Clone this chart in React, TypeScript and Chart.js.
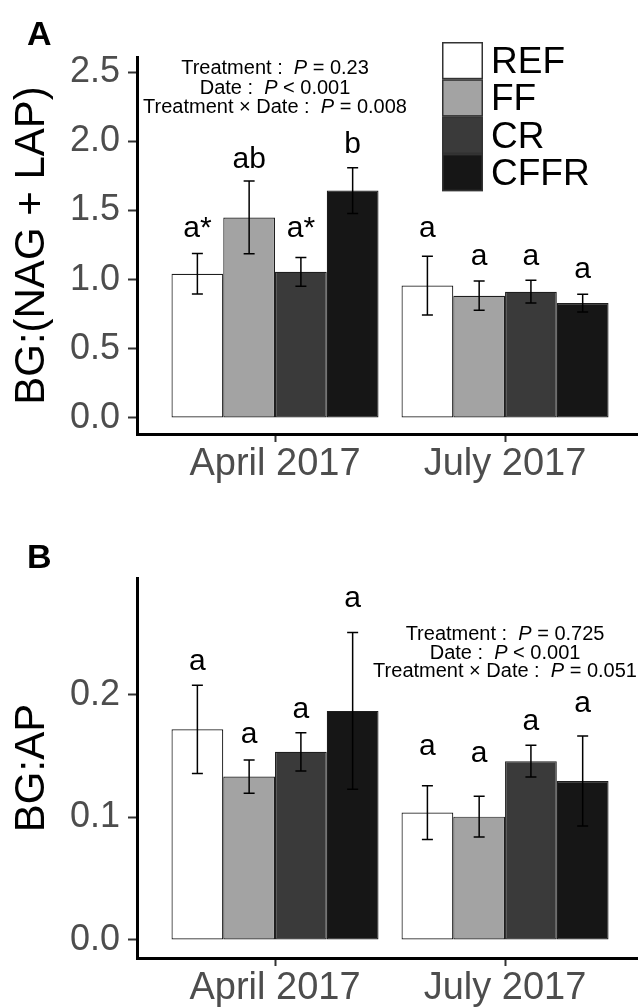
import React, { useEffect, useRef } from 'react';
import { Chart, registerables } from 'chart.js';

Chart.register(...registerables);

const FONT = "'Liberation Sans', Arial, Helvetica, sans-serif";

// ---- data ----
const dates = ['April 2017', 'July 2017'];
const treatments = ['REF', 'FF', 'CR', 'CFFR'];
const fills = ['#FFFFFF', '#A3A3A3', '#3A3A3A', '#161616'];

// Panel A: BG:(NAG + LAP)
const nagAprilMean = [1.043, 1.45, 1.057, 1.644];
const nagAprilSe = [0.147, 0.263, 0.104, 0.166];
const nagJulyMean = [0.957, 0.884, 0.913, 0.831];
const nagJulySe = [0.212, 0.106, 0.082, 0.064];
const nagAprilLetters = ['a*', 'ab', 'a*', 'b'];
const nagJulyLetters = ['a', 'a', 'a', 'a'];
const nagAprilLetterAt = [1.31, 1.809, 1.31, 1.913];
const nagJulyLetterAt = [1.31, 1.105, 1.105, 1.009];
const nagTicks = [0, 0.5, 1, 1.5, 2, 2.5];
const nagStats: [string, string, string][] = [
  ['Treatment', '=', '0.23'],
  ['Date', '<', '0.001'],
  ['Treatment \u00D7 Date', '=', '0.008'],
];

// Panel B: BG:AP
const apAprilMean = [0.172, 0.1334, 0.1536, 0.187];
const apAprilSe = [0.036, 0.0136, 0.0156, 0.064];
const apJulyMean = [0.104, 0.1007, 0.146, 0.1298];
const apJulySe = [0.022, 0.0167, 0.013, 0.0367];
const apAprilLetters = ['a', 'a', 'a', 'a'];
const apJulyLetters = ['a', 'a', 'a', 'a'];
const apAprilLetterAt = [0.2204, 0.1606, 0.181, 0.2716];
const apJulyLetterAt = [0.151, 0.1456, 0.1714, 0.1864];
const apTicks = [0, 0.1, 0.2];
const apStats: [string, string, string][] = [
  ['Treatment', '=', '0.725'],
  ['Date', '<', '0.001'],
  ['Treatment \u00D7 Date', '=', '0.051'],
];

type Spec = {
  height: number;
  padTop: number;
  axisBottom: number;
  yMin: number;
  yMax: number;
  yTicks: number[];
  yTitle: string;
  means: number[][];
  ses: number[][];
  letters: string[][];
  letterAt: number[][];
  stats: [string, string, string][];
  statsDate: number;
  statsAt: number;
  statsGap: number;
  panelLabel: string;
  panelLabelY: number;
  legend: boolean;
};

function drawStatLine(ctx: CanvasRenderingContext2D, cx: number, y: number, pre: string, op: string, val: string) {
  const normal = `20px ${FONT}`;
  const ital = `italic 20px ${FONT}`;
  const parts: [string, string][] = [
    [pre + ' :  ', normal],
    ['P', ital],
    [' ' + op + ' ' + val, normal],
  ];
  let w = 0;
  for (const p of parts) {
    ctx.font = p[1];
    w += ctx.measureText(p[0]).width;
  }
  let x = cx - w / 2;
  ctx.textAlign = 'left';
  ctx.textBaseline = 'alphabetic';
  for (const p of parts) {
    ctx.font = p[1];
    ctx.fillText(p[0], x, y);
    x += ctx.measureText(p[0]).width;
  }
}

function makeChart(canvas: HTMLCanvasElement, s: Spec) {
  const overlay = {
    id: 'overlay',
    afterDatasetsDraw(chart: any) {
      const ctx: CanvasRenderingContext2D = chart.ctx;
      const ys = chart.scales.y;
      const xs = chart.scales.x;
      ctx.save();
      // error bars
      ctx.strokeStyle = '#000';
      ctx.lineWidth = 1.5;
      treatments.forEach((_, k) => {
        const meta = chart.getDatasetMeta(k);
        meta.data.forEach((el: any, i: number) => {
          const m = s.means[i][k];
          const e = s.ses[i][k];
          const yt = ys.getPixelForValue(m + e);
          const yb = ys.getPixelForValue(m - e);
          const x = el.x;
          ctx.beginPath();
          ctx.moveTo(x, yt);
          ctx.lineTo(x, yb);
          ctx.moveTo(x - 5.5, yt);
          ctx.lineTo(x + 5.5, yt);
          ctx.moveTo(x - 5.5, yb);
          ctx.lineTo(x + 5.5, yb);
          ctx.stroke();
        });
      });
      // letters
      ctx.fillStyle = '#000';
      ctx.font = `30px ${FONT}`;
      ctx.textAlign = 'center';
      ctx.textBaseline = 'alphabetic';
      treatments.forEach((_, k) => {
        const meta = chart.getDatasetMeta(k);
        meta.data.forEach((el: any, i: number) => {
          ctx.fillText(s.letters[i][k], el.x, ys.getPixelForValue(s.letterAt[i][k]));
        });
      });
      // stats
      const cx = xs.getPixelForValue(s.statsDate);
      const y0 = ys.getPixelForValue(s.statsAt);
      s.stats.forEach((st, j) => drawStatLine(ctx, cx, y0 + j * s.statsGap, st[0], st[1], st[2]));
      // legend
      if (s.legend) {
        const lx = 442, ly = 42, bw = 41, bh = 37.3;
        treatments.forEach((t, k) => {
          const top = ly + k * bh;
          ctx.fillStyle = fills[k];
          ctx.fillRect(lx, top, bw, bh);
          ctx.strokeStyle = '#333';
          ctx.lineWidth = 1.5;
          ctx.strokeRect(lx + 0.75, top + 0.75, bw - 1.5, bh - 1.5);
          ctx.fillStyle = '#000';
          ctx.font = `37px ${FONT}`;
          ctx.textAlign = 'left';
          ctx.textBaseline = 'alphabetic';
          ctx.fillText(t, lx + bw + 8, top + bh / 2 + 12.5);
        });
      }
      // panel label
      ctx.fillStyle = '#000';
      ctx.font = `bold 34px ${FONT}`;
      ctx.textAlign = 'left';
      ctx.textBaseline = 'alphabetic';
      ctx.fillText(s.panelLabel, 27, s.panelLabelY);
      ctx.restore();
    },
  };

  return new Chart(canvas, {
    type: 'bar',
    data: {
      datasets: treatments.map((t, k) => ({
        label: t,
        data: dates.map((_, i) => ({ x: i, y: s.means[i][k] })),
        backgroundColor: fills[k],
        borderColor: '#1E1E1E',
        borderWidth: 1.2,
        borderSkipped: false,
        categoryPercentage: 0.9,
        barPercentage: 1,
      })),
    },
    options: {
      responsive: false,
      animation: false,
      events: [],
      layout: { padding: { top: s.padTop, left: 0, right: 0, bottom: 0 } },
      plugins: { legend: { display: false }, tooltip: { enabled: false }, title: { display: false } },
      scales: {
        x: {
          type: 'linear',
          offset: false,
          min: -0.6,
          max: 1.578,
          afterBuildTicks: (sc: any) => {
            sc.ticks = dates.map((_, i) => ({ value: i }));
          },
          afterFit: (sc: any) => {
            sc.height = s.height - s.axisBottom;
          },
          ticks: {
            callback: (v: any) => dates[v] ?? '',
            font: { size: 38, family: FONT },
            color: '#4D4D4D',
            padding: 0,
            maxRotation: 0,
            autoSkip: false,
          },
          grid: { offset: false, drawOnChartArea: false, drawTicks: true, tickLength: 8, tickColor: '#333', tickWidth: 2 },
          border: { display: true, color: '#000', width: 3 },
        },
        y: {
          type: 'linear',
          min: s.yMin,
          max: s.yMax,
          afterBuildTicks: (sc: any) => {
            sc.ticks = s.yTicks.map((v) => ({ value: v }));
          },
          afterFit: (sc: any) => {
            sc.width = 137;
          },
          ticks: {
            callback: (v: any) => Number(v).toFixed(1),
            font: { size: 36, family: FONT },
            color: '#4D4D4D',
            padding: 8,
          },
          grid: { drawOnChartArea: false, drawTicks: true, tickLength: 9, tickColor: '#333', tickWidth: 2 },
          border: { display: true, color: '#000', width: 3 },
          title: {
            display: true,
            text: s.yTitle,
            font: { size: 42, family: FONT },
            color: '#000',
            padding: { top: 7, bottom: 0 },
          },
        },
      },
    } as any,
    plugins: [overlay as any],
  });
}

const specA: Spec = {
  height: 490,
  padTop: 57,
  axisBottom: 434,
  yMin: -0.116,
  yMax: 2.61,
  yTicks: nagTicks,
  yTitle: 'BG:(NAG + LAP)',
  means: [nagAprilMean, nagJulyMean],
  ses: [nagAprilSe, nagJulySe],
  letters: [nagAprilLetters, nagJulyLetters],
  letterAt: [nagAprilLetterAt, nagJulyLetterAt],
  stats: nagStats,
  statsDate: 0,
  statsAt: 2.4855,
  statsGap: 19.5,
  panelLabel: 'A',
  panelLabelY: 45,
  legend: true,
};

const specB: Spec = {
  height: 517,
  padTop: 88,
  axisBottom: 468,
  yMin: -0.0147,
  yMax: 0.2955,
  yTicks: apTicks,
  yTitle: 'BG:AP',
  means: [apAprilMean, apJulyMean],
  ses: [apAprilSe, apJulySe],
  letters: [apAprilLetters, apJulyLetters],
  letterAt: [apAprilLetterAt, apJulyLetterAt],
  stats: apStats,
  statsDate: 1,
  statsAt: 0.245,
  statsGap: 18.7,
  panelLabel: 'B',
  panelLabelY: 78,
  legend: false,
};

function Panel({ spec }: { spec: Spec }) {
  const ref = useRef<HTMLCanvasElement | null>(null);
  useEffect(() => {
    if (!ref.current) return;
    const c = makeChart(ref.current, spec);
    return () => c.destroy();
  }, [spec]);
  return <canvas ref={ref} width={638} height={spec.height} style={{ display: 'block', width: 638, height: spec.height }} />;
}

export default function App() {
  return (
    <div style={{ position: 'absolute', left: 0, top: 0, width: 638, height: 1007, background: '#fff', overflow: 'hidden' }}>
      <Panel spec={specA} />
      <Panel spec={specB} />
    </div>
  );
}
